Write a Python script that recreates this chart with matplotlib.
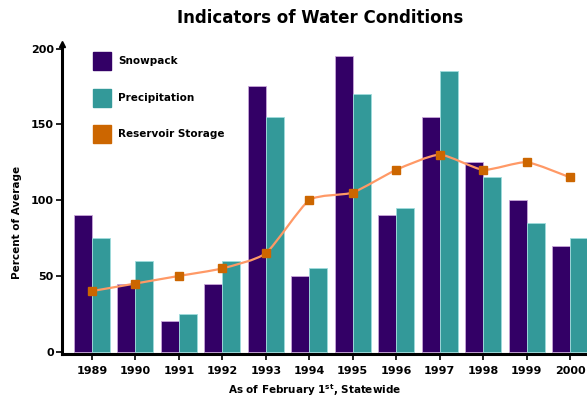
import matplotlib.pyplot as plt
import numpy as np
from matplotlib.path import Path
from matplotlib.patches import PathPatch, Rectangle

# Water condition indicators, percent of average on February 1st
years = ["1989", "1990", "1991", "1992", "1993", "1994",
         "1995", "1996", "1997", "1998", "1999", "2000"]
snowpack = [90, 45, 20, 45, 175, 50, 195, 90, 155, 125, 100, 70]
precipitation = [75, 60, 25, 60, 155, 55, 170, 95, 185, 115, 85, 75]
reservoir = [40, 45, 50, 55, 65, 100, 105, 120, 130, 120, 125, 115]

SNOW_C = "#330066"
PRECIP_C = "#339999"
RES_C = "#CC6600"
LINE_C = "#FF9966"

W, H = 587, 398
fig = plt.figure(figsize=(W / 100, H / 100), dpi=100)
ax = fig.add_axes([62 / W, (H - 354) / H, 1 - 62 / W, (354 - 44) / H])

x = np.arange(len(years))
bw = 0.414
ax.bar(x - bw / 2, snowpack, bw, color=SNOW_C, edgecolor="#c9a6d9", linewidth=0.6)
ax.bar(x + bw / 2, precipitation, bw, color=PRECIP_C, edgecolor="#9fdcdc", linewidth=0.6)


def smooth_path(xs, ys, t=0.1):
    # Catmull-Rom style cubic bezier through the data points
    verts = [(xs[0], ys[0])]
    codes = [Path.MOVETO]
    n = len(xs)
    for i in range(n - 1):
        x0, y0 = xs[max(i - 1, 0)], ys[max(i - 1, 0)]
        x1, y1 = xs[i], ys[i]
        x2, y2 = xs[i + 1], ys[i + 1]
        x3, y3 = xs[min(i + 2, n - 1)], ys[min(i + 2, n - 1)]
        c1 = (x1 + (x2 - x0) * t, y1 + (y2 - y0) * t)
        c2 = (x2 - (x3 - x1) * t, y2 - (y3 - y1) * t)
        verts += [c1, c2, (x2, y2)]
        codes += [Path.CURVE4] * 3
    return Path(verts, codes)


ax.add_patch(PathPatch(smooth_path(x, reservoir), facecolor="none",
                       edgecolor=LINE_C, lw=1.6, zorder=3))
ax.plot(x, reservoir, ls="none", marker="s", ms=5.5, color=RES_C, zorder=4)

ax.set_xlim(-0.69, 11.39)
ax.set_ylim(-1.5, 203)
ax.set_xticks(x)
ax.set_xticklabels(years, fontsize=8, fontweight="bold")
ax.set_yticks([0, 50, 100, 150, 200])
ax.set_yticklabels(["0", "50", "100", "150", "200"], fontsize=8, fontweight="bold")
ax.tick_params(axis="both", length=4, width=1.2, pad=2)
ax.tick_params(axis="x", pad=5)

for side in ("top", "right"):
    ax.spines[side].set_visible(False)
ax.spines["left"].set_linewidth(2.2)
ax.spines["bottom"].set_linewidth(2.2)
ax.plot([0], [1.0], marker="^", ms=4, color="black", transform=ax.transAxes,
        clip_on=False)

fig.text(17 / W, 1 - 222 / H, "Percent of Average", fontsize=7.5,
         fontweight="bold", rotation=90, ha="center", va="center")
fig.text(315 / W, 1 - 390 / H, "As of February 1$^{\\mathbf{st}}$, Statewide",
         fontsize=7.5, fontweight="bold", ha="center", va="center")

fig.text(320 / W, 1 - 18 / H, "Indicators of Water Conditions", fontsize=12,
         fontweight="bold", ha="center", va="center")

# legend boxes drawn in figure pixels
legend = [("Snowpack", SNOW_C, 52), ("Precipitation", PRECIP_C, 89),
          ("Reservoir Storage", RES_C, 125)]
for label, color, top in legend:
    fig.patches.append(Rectangle((93 / W, 1 - (top + 18) / H), 18 / W, 18 / H,
                                 transform=fig.transFigure, color=color))
    fig.text(118 / W, 1 - (top + 9) / H, label, fontsize=7.5, fontweight="bold",
             ha="left", va="center")

fig.savefig("out.png", dpi=100)
